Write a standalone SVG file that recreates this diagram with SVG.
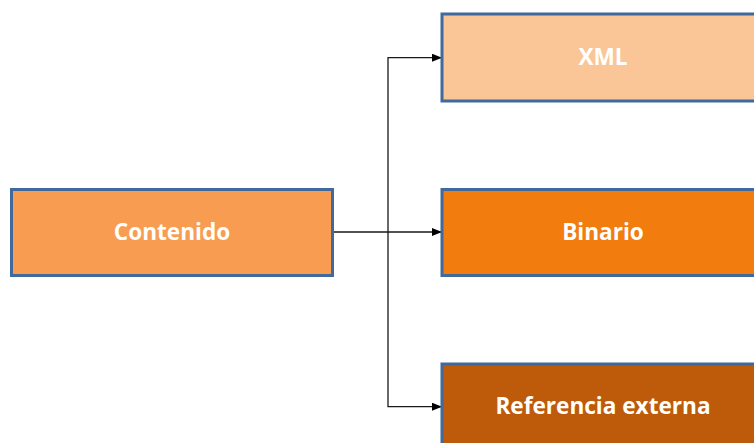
<svg xmlns="http://www.w3.org/2000/svg" width="754" height="443" viewBox="0 0 754 443">
<defs>
<style>
.box{stroke:#41699B;stroke-width:3}
.lbl{font-family:"Open Sans","Liberation Sans",Arial,sans-serif;font-weight:bold;font-size:22.6px;fill:#FFFFFF;text-anchor:middle;dominant-baseline:central}
.conn{fill:none;stroke:#1a1a1a;stroke-width:1.3}
</style>
<marker id="arr" markerWidth="10" markerHeight="8" refX="9" refY="4" orient="auto" markerUnits="userSpaceOnUse">
<path d="M0,0 L10,4 L0,8 Z" fill="#000"/>
</marker>
</defs>
<rect width="754" height="443" fill="#FFFFFF"/>
<g id="connectors">
<path class="conn" d="M333,232 H388 V57.7 H441" marker-end="url(#arr)"/>
<path class="conn" d="M388,232 H441" marker-end="url(#arr)"/>
<path class="conn" d="M388,232 V406.7 H441" marker-end="url(#arr)"/>
</g>
<g id="contenido">
<rect class="box" x="11.5" y="189.5" width="321" height="86" fill="#F79C51"/>
<text class="lbl" x="172" y="231">Contenido</text>
</g>
<g id="xml">
<rect class="box" x="442" y="14" width="321" height="87" fill="#FAC597"/>
<text class="lbl" x="603" y="56.5">XML</text>
</g>
<g id="binario">
<rect class="box" x="442" y="189.5" width="321" height="86" fill="#F27C0E"/>
<text class="lbl" x="603" y="231">Binario</text>
</g>
<g id="referencia">
<rect class="box" x="442" y="364" width="321" height="86" fill="#BE5B0A"/>
<text class="lbl" x="603" y="405.7">Referencia externa</text>
</g>
</svg>
